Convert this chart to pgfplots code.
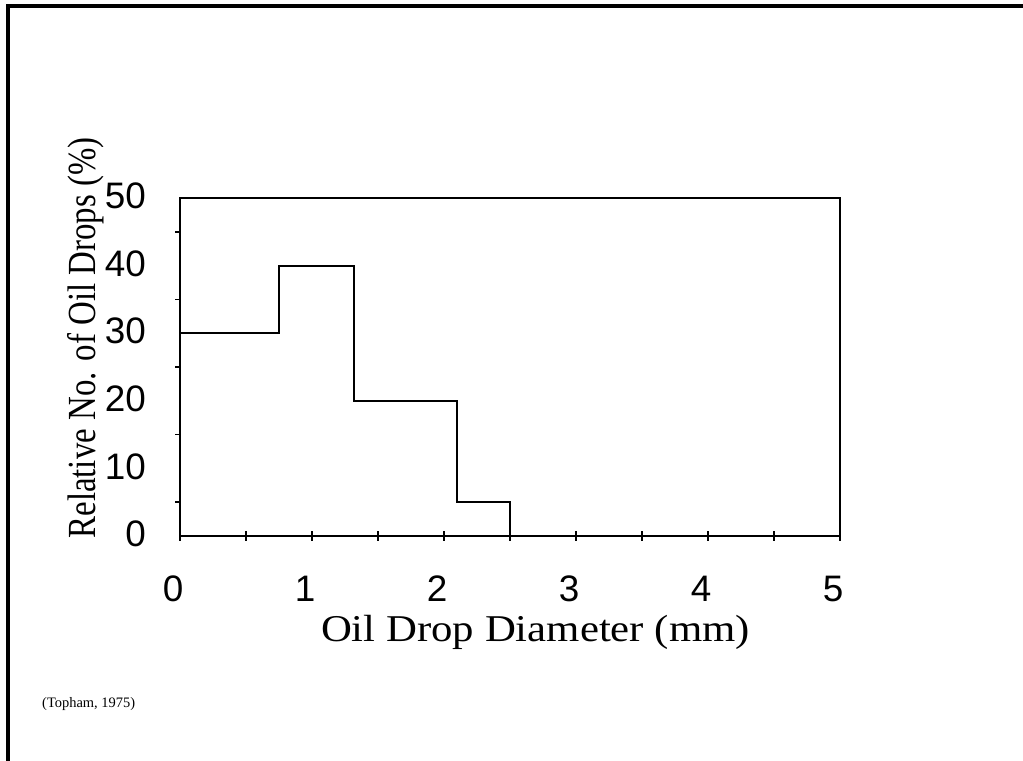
\documentclass[border=0pt]{standalone}
\usepackage{pgfplots}
\pgfplotsset{compat=1.18}
\usepackage{fontspec}
\setmainfont{Liberation Serif}
\newfontfamily\arialf{Liberation Sans}
\newfontfamily\widetimes[FakeStretch=1.13]{Liberation Serif}
\newfontfamily\narrowtimes[FakeStretch=0.825]{Liberation Serif}
\begin{document}
\begin{tikzpicture}[x=1bp,y=1bp]
\path[use as bounding box] (0,0) rectangle (1023,761);
% outer frame (left and top edges)
\draw[line width=3.5bp] (8,0) -- (8,755) -- (1023,755);
\begin{axis}[
  at={(180bp,225bp)}, anchor=origin,
  scale only axis, width=660bp, height=338bp,
  xmin=0, xmax=5, ymin=0, ymax=50,
  axis line style={line width=2bp},
  xtick={0,0.5,...,5},
  xticklabels={0,,1,,2,,3,,4,,5},
  ytick={0,10,...,50},
  minor ytick={5,15,...,45},
  tick style={black, line width=1.5bp},
  xtick pos=bottom, ytick pos=left,
  major tick length=10bp,
  minor tick length=5bp,
  xtick align=center,
  major y tick style={draw=none},
  ytick align=outside,
  /pgf/number format/assume math mode=true,
  ticklabel style={font=\arialf\fontsize{37}{42}\selectfont, inner sep=0pt},
  xticklabel style={anchor=base, yshift=-61bp, xshift=-7bp},
  yticklabel style={anchor=east, xshift=-24bp, yshift=2bp},
]
\addplot[const plot, black, line width=2bp] coordinates {
  (0,30) (0.75,40) (1.32,20) (2.1,5) (2.5,0)
};
\end{axis}
\node[anchor=base, inner sep=0pt, font=\widetimes\fontsize{38}{42}\selectfont] at (535.5,119) {Oil Drop Diameter (mm)};
\node[rotate=90, inner sep=0pt, font=\narrowtimes\fontsize{40}{44}\selectfont] at (86,423) {Relative No. of Oil Drops (\%)};
\node[anchor=base west, inner sep=0pt, font=\fontsize{14.5}{16}\selectfont] at (42,53) {(Topham, 1975)};
\end{tikzpicture}
\end{document}
